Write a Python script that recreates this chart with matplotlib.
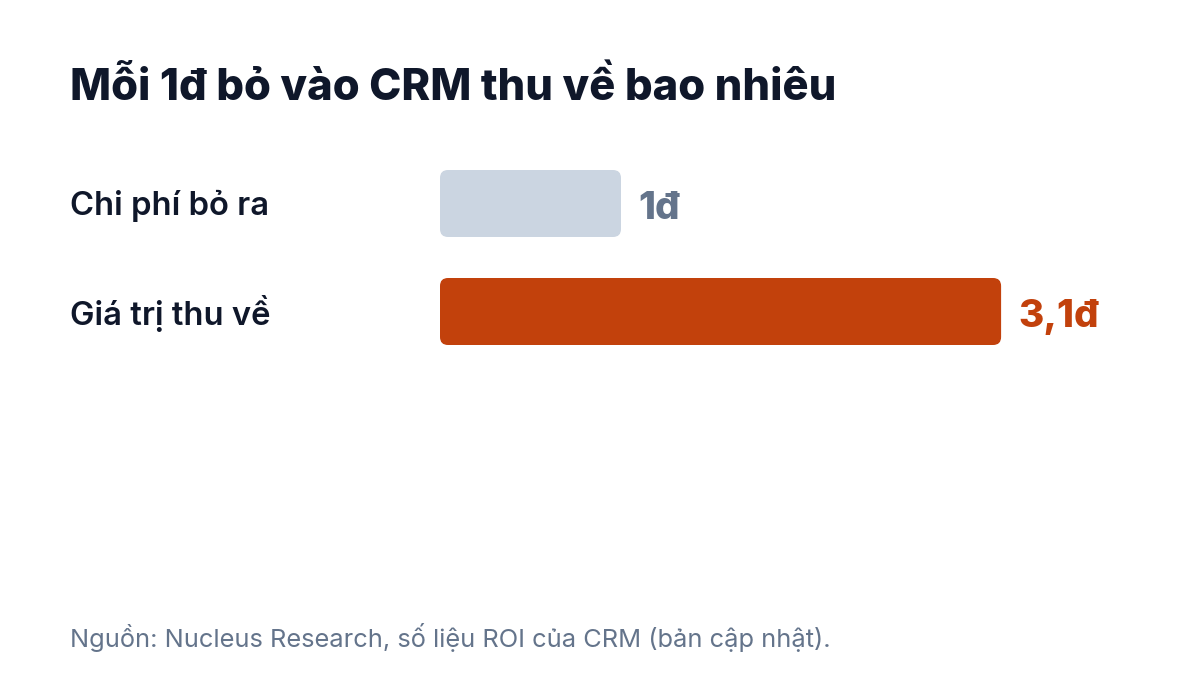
import matplotlib.pyplot as plt
from matplotlib.patches import FancyBboxPatch

plt.rcParams['font.family'] = ['Inter', 'DejaVu Sans']

# data
categories = ["Chi phí bỏ ra", "Giá trị thu về"]
values = [1.0, 3.1]
value_labels = ["1đ", "3,1đ"]
bar_colors = ["#cbd5e1", "#c2410c"]
label_colors = ["#64748b", "#c2410c"]
title = "Mỗi 1đ bỏ vào CRM thu về bao nhiêu"
source = "Nguồn: Nucleus Research, số liệu ROI của CRM (bản cập nhật)."

W, H = 1200, 675
fig = plt.figure(figsize=(12, 6.75), dpi=100)
fig.patch.set_facecolor("white")

# axes: x=0 at px 440, 1 unit = 181 px ; y pitch 108 px
ax_left, ax_right = 440, 1160
ax_top, ax_bot = 149.5, 365.5
ax = fig.add_axes([ax_left / W, 1 - ax_bot / H, (ax_right - ax_left) / W, (ax_bot - ax_top) / H])
ax.set_xlim(0, (ax_right - ax_left) / 181)
ax.set_ylim(1.5, -0.5)
ax.axis("off")

bar_h = 67 / 108
rx = 8 / 181
ry = 8 / 108
for i, (v, c) in enumerate(zip(values, bar_colors)):
    p = FancyBboxPatch((0, i - bar_h / 2), v, bar_h,
                       boxstyle="round,pad=0,rounding_size=%f" % rx,
                       mutation_aspect=ry / rx, fc=c, ec="none")
    ax.add_patch(p)
    ax.text(v + 17 / 181, i + 0.05, value_labels[i], color=label_colors[i],
            fontsize=27.8, fontweight="heavy", va="center", ha="left")
    fig.text(70 / W, 1 - (206 + i * 108) / H, categories[i], color="#0f172a",
             fontsize=23.6, fontweight="semibold", va="center", ha="left")

fig.text(70 / W, 1 - 89 / H, title, color="#0f172a", fontsize=31.3,
         fontweight="heavy", va="center", ha="left")
fig.text(70 / W, 1 - 638 / H, source, color="#64748b", fontsize=18.3,
         va="center", ha="left")

fig.savefig("out.png", dpi=100, facecolor="white")
